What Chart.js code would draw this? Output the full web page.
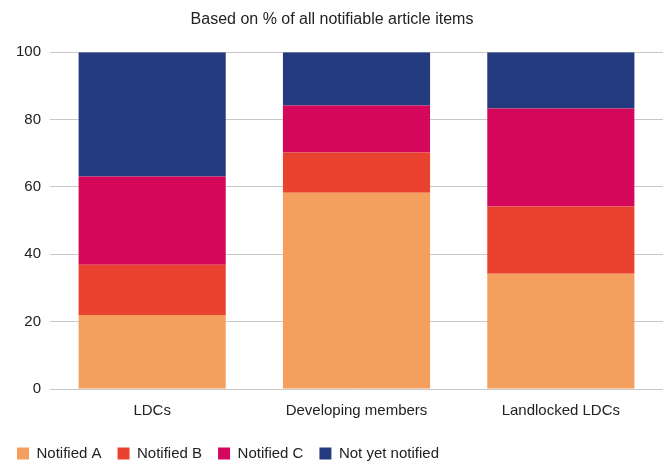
<!DOCTYPE html>
<html>
<head>
<meta charset="utf-8">
<script src="https://cdn.jsdelivr.net/npm/chart.js@4"></script>
<style>
  body { margin: 0; background: #fff; }
  #wrap { width: 667px; height: 462px; }
</style>
</head>
<body>
<div id="wrap"><canvas id="chart"></canvas></div>
<script>
// Categories and stacked shares (% of all notifiable article items)
const CATEGORIES = ["LDCs", "Developing members", "Landlocked LDCs"];
const NOTIFIED_A = [22.0, 58.3, 34.2];
const NOTIFIED_B = [14.9, 11.9, 20.0];
const NOTIFIED_C = [26.2, 14.0, 29.1];
const NOT_YET    = [36.9, 15.8, 16.7];

const FONT = "'Liberation Sans', Arial, sans-serif";

new Chart(document.getElementById("chart"), {
  type: "bar",
  data: {
    labels: CATEGORIES,
    datasets: [
      { label: "Notified A",       data: NOTIFIED_A, backgroundColor: "#f59f5f" },
      { label: "Notified B",       data: NOTIFIED_B, backgroundColor: "#e9422e" },
      { label: "Notified C",       data: NOTIFIED_C, backgroundColor: "#d4075b" },
      { label: "Not yet notified", data: NOT_YET,    backgroundColor: "#233a7f" },
    ],
  },
  options: {
    responsive: true,
    maintainAspectRatio: false,
    animation: false,
    layout: { padding: { left: 1, right: 4, bottom: -9 } },
    datasets: { bar: { categoryPercentage: 0.72, barPercentage: 1 } },
    plugins: {
      title: {
        display: true,
        text: "Based on % of all notifiable article items",
        color: "#222",
        font: { family: FONT, size: 16, weight: "normal" },
        padding: { top: 10, bottom: 23 },
      },
      legend: {
        position: "bottom",
        align: "start",
        labels: {
          boxWidth: 12,
          boxHeight: 12,
          padding: 16,
          color: "#222",
          font: { family: FONT, size: 15 },
        },
      },
      tooltip: { enabled: false },
    },
    scales: {
      x: {
        stacked: true,
        grid: { display: false },
        border: { display: false },
        ticks: { color: "#222", font: { family: FONT, size: 15 }, padding: 5 },
        afterFit(scale) { scale.height += 5; },
      },
      y: {
        stacked: true,
        min: 0,
        max: 100,
        ticks: { stepSize: 20, color: "#222", font: { family: FONT, size: 15 }, padding: 9 },
        grid: { color: "#c8c8c8", drawTicks: false },
        border: { display: false },
        afterFit(scale) { scale.width = 49; },
      },
    },
  },
});
</script>
</body>
</html>
